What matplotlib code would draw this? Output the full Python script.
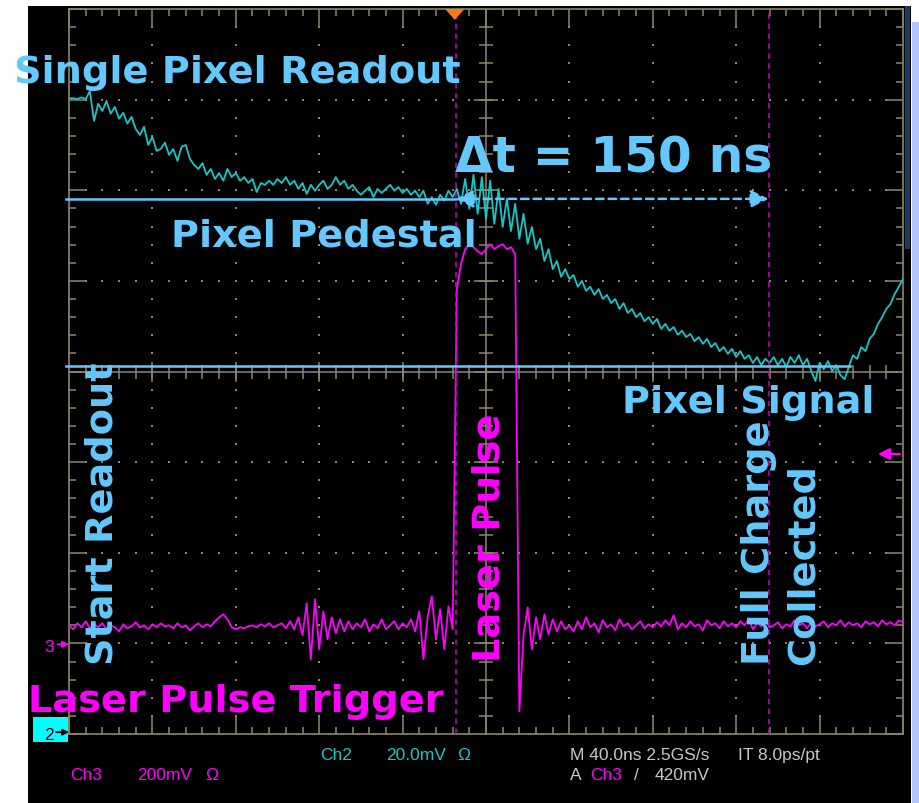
import numpy as np
import matplotlib.pyplot as plt
from matplotlib.patches import Rectangle, Polygon
from matplotlib.ticker import MultipleLocator

W, H = 919, 804

# Ch2: pixel readout (mV), one sample every 2 ns across the 400 ns screen
ch2_mv = [
    139.9, 139.9, 139.7, 140.1, 139.7, 141.5, 134.9, 138.7, 137.1, 139.3,
    136.5, 138.0, 135.4, 136.7, 134.3, 135.8, 133.1, 131.8, 133.6, 129.6,
    131.4, 128.3, 128.7, 130.1, 127.4, 128.7, 126.1, 129.2, 129.6, 126.5,
    125.2, 124.3, 125.6, 123.0, 124.3, 122.1, 123.4, 121.7, 124.3, 122.5,
    123.4, 121.7, 122.5, 121.2, 122.1, 119.2, 121.2, 120.8, 121.7, 120.8,
    122.1, 121.2, 122.5, 120.8, 121.7, 119.9, 121.2, 118.8, 120.8, 119.5,
    120.8, 121.7, 119.9, 120.8, 122.5, 120.8, 121.7, 119.9, 120.8, 119.5,
    118.6, 119.5, 120.3, 118.1, 119.9, 119.0, 119.9, 120.8, 119.5, 120.3,
    119.0, 119.9, 118.6, 119.5, 118.1, 119.5, 116.6, 118.1, 116.4, 118.6,
    117.3, 119.5, 118.1, 119.9, 116.6, 122.1, 115.5, 123.0, 114.4, 122.5,
    113.3, 121.7, 112.2, 119.9, 111.5, 117.7, 110.6, 116.6, 108.9, 114.4,
    107.8, 111.5, 106.6, 108.9, 104.0, 106.6, 102.2, 104.0, 100.5, 102.2,
    100.0, 100.9, 98.3, 99.6, 97.4, 98.3, 96.5, 97.8, 95.6, 96.5,
    94.7, 95.6, 93.4, 94.7, 92.5, 93.4, 91.6, 92.5, 90.7, 91.6,
    90.1, 91.2, 89.0, 90.1, 88.6, 89.4, 87.7, 88.6, 87.2, 87.9,
    86.3, 87.2, 85.7, 86.8, 85.0, 85.9, 84.1, 85.0, 83.5, 84.6,
    82.8, 84.1, 82.4, 83.2, 81.5, 82.8, 81.0, 82.4, 81.5, 82.8,
    81.0, 82.4, 80.6, 82.8, 81.5, 83.2, 81.0, 82.4, 79.7, 77.5,
    81.5, 80.1, 81.9, 79.7, 81.0, 78.8, 77.9, 80.6, 83.2, 82.4,
    85.0, 84.1, 86.8, 87.9, 90.1, 91.6, 93.4, 94.5, 96.7, 98.3, 100.0,
]

# Ch3: laser pulse monitor (mV), same sampling
ch3_mv = [
    41.9, 33.1, 46.4, 37.5, 50.8, 35.3, 44.2, 37.5, 46.4, 33.1,
    41.9, 37.5, 28.7, 44.2, 35.3, 39.7, 48.6, 37.5, 41.9, 33.1,
    44.2, 37.5, 46.4, 39.7, 41.9, 35.3, 46.4, 37.5, 41.9, 30.9,
    39.7, 46.4, 37.5, 44.2, 39.7, 50.8, 59.6, 66.2, 55.2, 37.5,
    33.1, 37.5, 35.3, 39.7, 41.9, 37.5, 44.2, 39.7, 46.4, 37.5,
    41.9, 46.4, 35.3, 50.8, 33.1, 59.6, 19.9, 90.5, -33.1, 99.3,
    -11.0, 72.8, 11.0, 59.6, 24.3, 55.2, 28.7, 50.8, 33.1, 46.4,
    37.5, 55.2, 28.7, 44.2, 35.3, 55.2, 33.1, 41.9, 50.8, 33.1,
    46.4, 37.5, 55.2, 28.7, 72.8, -33.1, 59.6, 106.0, 11.0, 77.3,
    -11.0, 83.9, 33.1, 783.7, 838.9, 872.0, 883.0, 876.4, 867.5, 861.0,
    872.0, 883.0, 872.0, 878.6, 883.0, 872.0, 876.4, 861.0, -147.9, 20.0,
    81.7, -11.0, 59.6, 11.0, 66.2, 22.1, 55.2, 28.7, 50.8, 33.1,
    41.9, 28.7, 50.8, 33.1, 59.6, 37.5, 46.4, 26.5, 53.0, 37.5,
    44.2, 30.9, 55.2, 39.7, 46.4, 33.1, 41.9, 50.8, 35.3, 44.2,
    37.5, 48.6, 39.7, 53.0, 41.9, 64.0, 33.1, 46.4, 37.5, 50.8,
    39.7, 44.2, 30.9, 53.0, 41.9, 46.4, 35.3, 50.8, 39.7, 46.4,
    37.5, 50.8, 41.9, 55.2, 33.1, 46.4, 39.7, 53.0, 37.5, 41.9,
    48.6, 35.3, 44.2, 39.7, 53.0, 41.9, 46.4, 35.3, 48.6, 39.7,
    44.2, 50.8, 37.5, 46.4, 41.9, 53.0, 39.7, 48.6, 41.9, 46.4,
    37.5, 50.8, 44.2, 48.6, 39.7, 53.0, 44.2, 48.6, 41.9, 53.0, 48.6,
]

ch2_scale, ch3_scale = 20.0, 200.0      # mV/div
ch2_pos, ch3_pos = 0.02, 0.99           # ground markers, in divisions
trig_level = 420.0                      # mV on Ch3
trig_time = 185.0                       # ns
cursor_a = 185.5                        # ns
delta_t = 150.0                         # ns
cursor_b = cursor_a + delta_t
pedestal_mv = 117.7
signal_mv = 80.8
signal_line_end = 374.5                 # ns

t = np.linspace(0, 400, len(ch2_mv))
ch2 = np.array(ch2_mv) / ch2_scale + ch2_pos
ch3 = np.array(ch3_mv) / ch3_scale + ch3_pos
pedestal = pedestal_mv / ch2_scale + ch2_pos
signal = signal_mv / ch2_scale + ch2_pos
trig_div = trig_level / ch3_scale + ch3_pos

grat = '#8c876b'
cyan = '#17c6c6'
mag = '#ff00ff'
blue = '#64c8fc'
grey = '#c8c8c8'

plt.rcParams['font.family'] = 'DejaVu Sans'

fig = plt.figure(figsize=(W / 100, H / 100), dpi=100)
fig.patch.set_facecolor('white')
fig.patches.append(Rectangle((28 / W, 0), 883 / W, 797 / H, transform=fig.transFigure,
                             facecolor='black', edgecolor='none', zorder=-10))
fig.patches.append(Rectangle((905 / W, 1 - 250 / H), 5 / W, 243 / H, transform=fig.transFigure,
                             facecolor='#1d3a5e', edgecolor='none', zorder=-9))
fig.patches.append(Rectangle((912 / W, 0), 7 / W, 781 / H, transform=fig.transFigure,
                             facecolor='#b3c3fb', edgecolor='none', zorder=-9))
# Ch2 marker box sits under the axes so its arrow shows on top
fig.patches.append(Rectangle((33 / W, 1 - 743 / H), 35 / W, 25 / H, transform=fig.transFigure,
                             facecolor='#00ffff', edgecolor='none', zorder=-5))

ax = fig.add_axes([69 / W, 1 - 735 / H, 834 / W, 725 / H])
ax.set_facecolor('none')
ax.set_xlim(0, 400)
ax.set_ylim(0, 8)

# graticule: border ticks, centre cross, dotted divisions
ax.xaxis.set_major_locator(MultipleLocator(40))
ax.xaxis.set_minor_locator(MultipleLocator(8))
ax.yaxis.set_major_locator(MultipleLocator(1))
ax.yaxis.set_minor_locator(MultipleLocator(0.2))
ax.tick_params(which='both', direction='in', top=True, right=True, bottom=True, left=True,
               labelbottom=False, labelleft=False, color=grat, width=1.1)
ax.tick_params(which='major', length=13)
ax.tick_params(which='minor', length=5)
for s in ax.spines.values():
    s.set_color(grat)
    s.set_linewidth(1.2)

ax.axvline(200, color=grat, lw=1.1, zorder=1)
ax.axhline(4, color=grat, lw=1.1, zorder=1)
xm = np.arange(8, 400, 8)
ax.plot(xm, np.full(len(xm), 4.0), ls='none', marker='|', ms=9.5, mew=1.1, color=grat, zorder=1)
xM = np.arange(40, 400, 40)
ax.plot(xM, np.full(len(xM), 4.0), ls='none', marker='|', ms=15, mew=1.1, color=grat, zorder=1)
ym = np.arange(0.2, 8, 0.2)
ax.plot(np.full(len(ym), 200.0), ym, ls='none', marker='_', ms=9.5, mew=1.1, color=grat, zorder=1)
yM = np.arange(1, 8, 1)
ax.plot(np.full(len(yM), 200.0), yM, ls='none', marker='_', ms=17, mew=1.1, color=grat, zorder=1)

for k in [1, 2, 3, 4, 6, 7, 8, 9]:
    ax.plot(np.full(len(ym), 40.0 * k), ym, ls='none', marker='s', ms=1.8, mew=0, color=grat, zorder=1)
for j in [1, 2, 3, 5, 6, 7]:
    ax.plot(xm, np.full(len(xm), float(j)), ls='none', marker='s', ms=1.8, mew=0, color=grat, zorder=1)

# waveforms
ax.plot(t, ch2, color=cyan, lw=1.3, zorder=3)
ax.plot(t, ch3, color=mag, lw=1.3, zorder=3)

# cursors and trigger marks
for c in (cursor_a, cursor_b):
    ax.axvline(c, color='#d000d0', lw=1.1, ls=(0, (3.5, 3)), zorder=4)
ax.add_patch(Polygon([(trig_time - 4.6, 8.0), (trig_time + 4.6, 8.0), (trig_time, 7.88)],
                     closed=True, facecolor='#ff7a1a', edgecolor='none', clip_on=False, zorder=7))
ax.annotate('', xy=(388, trig_div), xytext=(398.5, trig_div), annotation_clip=False,
            arrowprops=dict(arrowstyle='-|>', color=mag, lw=1.6, mutation_scale=17,
                            shrinkA=0, shrinkB=0))

# pedestal / signal levels and the delta-t arrow
ax.plot([-1.5, cursor_a], [pedestal, pedestal], color=blue, lw=1.8, clip_on=False, zorder=5)
ax.plot([-1.5, signal_line_end], [signal, signal], color=blue, lw=1.8, clip_on=False, zorder=5)
ax.annotate('', xy=(cursor_b, pedestal), xytext=(cursor_a, pedestal),
            arrowprops=dict(arrowstyle='<|-|>', color=blue, lw=1.8, ls=(0, (3, 2)),
                            mutation_scale=27, shrinkA=0, shrinkB=0), zorder=5)

lab = dict(color=blue, fontsize=27.5, fontweight='bold', clip_on=False, zorder=6)
ax.text(-26.4, 7.196, 'Single Pixel Readout', ha='left', va='baseline', **lab)
ax.text(49, 5.386, 'Pixel Pedestal', ha='left', va='baseline', **lab)
ax.text(265.2, 3.554, 'Pixel Signal', ha='left', va='baseline', **lab)
ax.text(cursor_a - 0.5, 6.203, '\u0394t = 150 ns', ha='left', va='baseline',
        color=blue, fontsize=35, fontweight='bold', zorder=6)
rot = dict(rotation=90, rotation_mode='anchor', ha='left', va='baseline')
ax.text(21.1, 0.773, 'Start Readout', **rot, **lab)
ax.text(335.7, 0.773, 'Full Charge', **rot, **lab)
ax.text(357.3, 0.773, 'Collected', **rot, **lab)
lab['color'] = mag
ax.text(206.7, 0.806, 'Laser Pulse', **rot, **lab)
ax.text(-19.7, 0.254, 'Laser Pulse Trigger', ha='left', va='baseline', **lab)

# channel ground markers
small = dict(fontsize=12.5, family='Liberation Sans', va='baseline')
fig.text(44 / W, 1 - 740 / H, '2', color='black', **small)
fig.text(44 / W, 1 - 652 / H, '3', color=mag, **small)
ax.annotate('', xy=(0, ch2_pos), xytext=(-6.2, ch2_pos), annotation_clip=False,
            arrowprops=dict(arrowstyle='-|>', color='black', lw=1.3, mutation_scale=9,
                            shrinkA=0, shrinkB=0))
ax.annotate('', xy=(0, ch3_pos), xytext=(-5.5, ch3_pos), annotation_clip=False,
            arrowprops=dict(arrowstyle='-|>', color=mag, lw=1.3, mutation_scale=9,
                            shrinkA=0, shrinkB=0))

# scope readouts
def readout(x, y, s, color):
    fig.text(x / W, 1 - y / H, s, color=color, **small)

readout(320, 760, 'Ch2', cyan)
readout(386, 760, '20.0mV', cyan)
readout(457, 760, '\u03a9', cyan)
readout(70, 780, 'Ch3', mag)
readout(137, 780, '200mV', mag)
readout(205, 780, '\u03a9', mag)
readout(570, 760, 'M 40.0ns 2.5GS/s', grey)
readout(738, 760, 'IT 8.0ps/pt', grey)
readout(570, 780, 'A', grey)
readout(590, 780, 'Ch3', mag)
readout(634, 780, '/', grey)
readout(655, 780, '420mV', grey)

fig.savefig('out.png', dpi=100, facecolor='white')
